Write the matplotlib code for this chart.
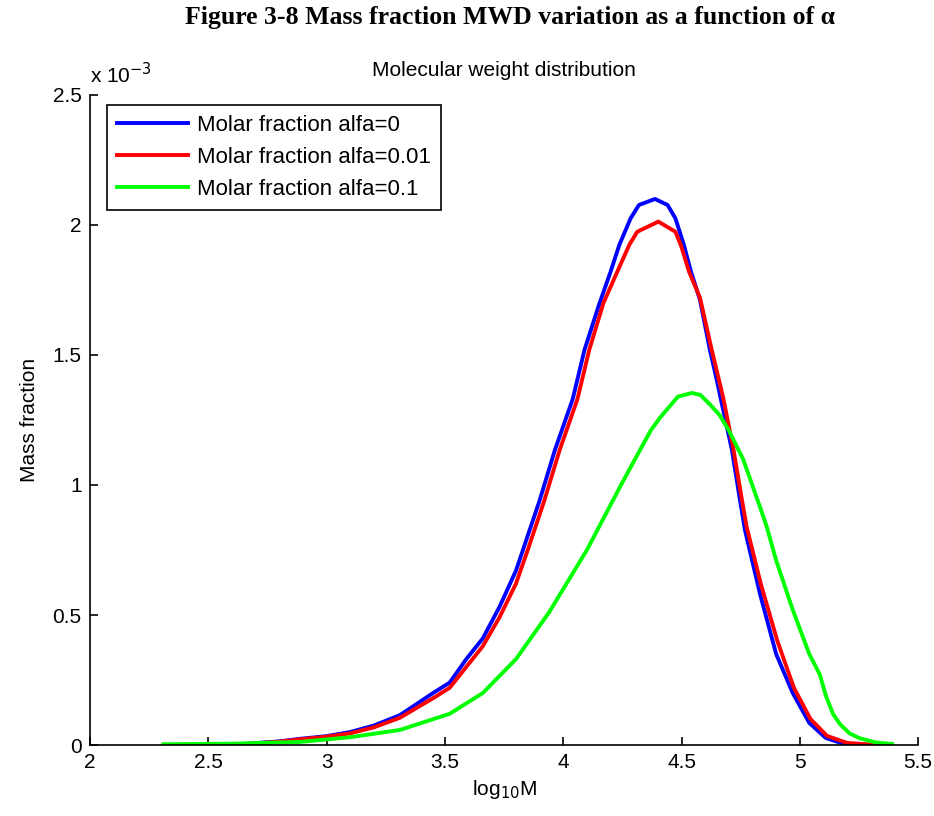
import numpy as np
import matplotlib
matplotlib.use("Agg")
import matplotlib.pyplot as plt
from matplotlib.ticker import FuncFormatter

# values (mass fraction in units of 1e-3)
blue_x = [2.65, 2.80, 2.89, 3.00, 3.10, 3.20, 3.31, 3.45, 3.52, 3.59, 3.66, 3.73,
          3.80, 3.90, 3.965, 4.04, 4.09, 4.15, 4.200, 4.237, 4.285, 4.320, 4.388,
          4.441, 4.474, 4.510, 4.540, 4.578, 4.62, 4.645, 4.671, 4.713, 4.747,
          4.768, 4.832, 4.90, 4.97, 5.04, 5.11, 5.18, 5.25]
blue_y = [0.004, 0.014, 0.024, 0.034, 0.05, 0.075, 0.115, 0.20, 0.24, 0.33, 0.41, 0.53,
          0.67, 0.94, 1.135, 1.33, 1.52, 1.69, 1.820, 1.923, 2.026, 2.077, 2.10,
          2.077, 2.026, 1.923, 1.820, 1.712, 1.519, 1.42, 1.31, 1.135, 0.942,
          0.827, 0.58, 0.35, 0.20, 0.085, 0.027, 0.006, 0.0]

red_x = [2.67, 2.80, 2.89, 3.00, 3.10, 3.20, 3.31, 3.45, 3.52, 3.59, 3.66, 3.73,
         3.80, 3.85, 3.92, 3.985, 4.06, 4.11, 4.17, 4.243, 4.280, 4.313, 4.402,
         4.474, 4.497, 4.532, 4.578, 4.625, 4.675, 4.717, 4.752, 4.775, 4.835,
         4.905, 4.975, 5.045, 5.115, 5.20, 5.33]
red_y = [0.004, 0.013, 0.022, 0.032, 0.045, 0.068, 0.105, 0.18, 0.22, 0.30, 0.38, 0.49,
         0.62, 0.75, 0.94, 1.135, 1.33, 1.52, 1.70, 1.85, 1.925, 1.974, 2.013,
         1.974, 1.923, 1.820, 1.72, 1.53, 1.34, 1.15, 0.96, 0.84, 0.62,
         0.40, 0.22, 0.10, 0.035, 0.008, 0.0]

green_x = [2.31, 2.60, 2.89, 3.10, 3.31, 3.52, 3.66, 3.80, 3.94, 4.10, 4.25, 4.37,
           4.41, 4.485, 4.545, 4.58, 4.62, 4.66, 4.70, 4.76, 4.83, 4.86, 4.90, 4.97,
           5.04, 5.085, 5.11, 5.14, 5.17, 5.21, 5.25, 5.32, 5.39]
green_y = [0.003, 0.005, 0.012, 0.03, 0.058, 0.12, 0.20, 0.33, 0.51, 0.75, 1.01, 1.21,
           1.26, 1.34, 1.354, 1.346, 1.31, 1.27, 1.21, 1.10, 0.92, 0.84, 0.71, 0.52,
           0.35, 0.27, 0.19, 0.12, 0.08, 0.045, 0.027, 0.01, 0.004]

labels = ["Molar fraction alfa=0", "Molar fraction alfa=0.01", "Molar fraction alfa=0.1"]

plt.rcParams['font.family'] = ['Liberation Sans', 'DejaVu Sans']

fig = plt.figure(figsize=(9.34, 8.16), dpi=100)
ax = fig.add_axes([0.0964, 0.087, 0.8866, 0.7966])

scale = 1e-3
ax.plot(blue_x, np.array(blue_y) * scale, color=(0, 0, 1), lw=2.8, label=labels[0])
ax.plot(red_x, np.array(red_y) * scale, color=(1, 0, 0), lw=2.8, label=labels[1])
ax.plot(green_x, np.array(green_y) * scale, color=(0, 1, 0), lw=2.8, label=labels[2])

ax.set_xlim(2, 5.5)
ax.set_ylim(0, 2.5e-3)
ax.set_xticks(np.arange(2, 5.51, 0.5))
ax.set_yticks(np.arange(0, 2.51e-3, 0.5e-3))
ax.xaxis.set_major_formatter(FuncFormatter(lambda v, p: f"{v:g}"))
ax.yaxis.set_major_formatter(FuncFormatter(lambda v, p: f"{v / scale:g}"))
ax.tick_params(direction='in', length=6, width=1.2, labelsize=15, pad=6)
for s in ['top', 'right']:
    ax.spines[s].set_visible(False)
for s in ['left', 'bottom']:
    ax.spines[s].set_linewidth(1.2)

ax.text(0.0, 1.012, r'x 10$^{-3}$', transform=ax.transAxes, fontsize=15,
        ha='left', va='bottom')
ax.set_title("Molecular weight distribution", fontsize=15, pad=14)
ax.set_xlabel(r"log$_{10}$M", fontsize=15, labelpad=4)
ax.set_ylabel("Mass fraction", fontsize=15, labelpad=10)

leg = ax.legend(loc='upper left', bbox_to_anchor=(0.0205, 0.985), borderaxespad=0,
                fontsize=16, fancybox=False, edgecolor='black', framealpha=1,
                handlelength=3.2, borderpad=0.45, labelspacing=0.49,
                handletextpad=0.4)
leg.get_frame().set_linewidth(1.2)

fig.text(0.546, 0.978, "Figure 3-8 Mass fraction MWD variation as a function of α",
         fontsize=18.5, fontweight='bold', ha='center', va='center',
         family=['Liberation Serif', 'DejaVu Serif'])

fig.savefig("out.png", dpi=100)
